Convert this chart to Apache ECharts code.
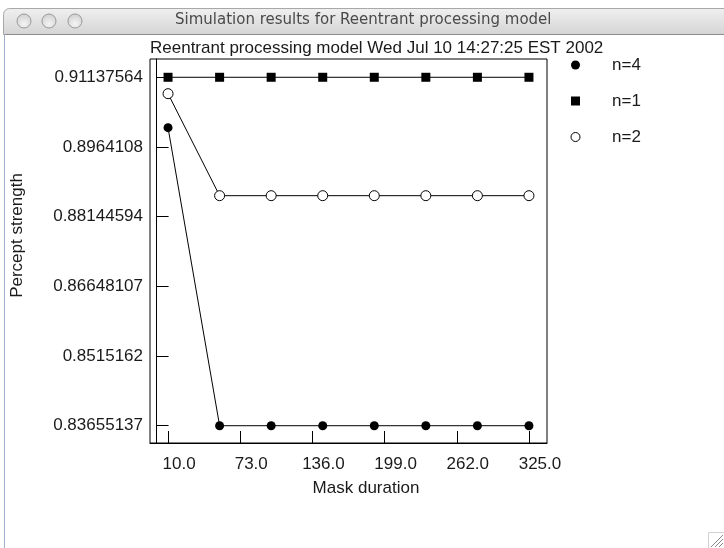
<!DOCTYPE html>
<html>
<head>
<meta charset="utf-8">
<script src="https://cdn.jsdelivr.net/npm/echarts@6/dist/echarts.min.js"></script>
<style>
html,body{margin:0;padding:0;background:#fff;}
#main{width:724px;height:548px;}
</style>
</head>
<body>
<div id="main"></div>
<script>
const windowTitle = 'Simulation results for Reentrant processing model';
const chartTitle = 'Reentrant processing model Wed Jul 10 14:27:25 EST 2002';
const xName = 'Mask duration';
const yName = 'Percept strength';
const seriesNames = ['n=4', 'n=1', 'n=2'];
const xValues = [10, 55, 100, 145, 190, 235, 280, 325];
const n4Values = [0.900555, 0.83655137, 0.83655137, 0.83655137, 0.83655137, 0.83655137, 0.83655137, 0.83655137];
const n1Values = [0.91137564, 0.91137564, 0.91137564, 0.91137564, 0.91137564, 0.91137564, 0.91137564, 0.91137564];
const n2Values = [0.907854, 0.88595, 0.88595, 0.88595, 0.88595, 0.88595, 0.88595, 0.88595];
const xTicks = [10, 73, 136, 199, 262, 325];
const xTickLabels = ['10.0', '73.0', '136.0', '199.0', '262.0', '325.0'];
const yTicks = [0.83655137, 0.8515162, 0.86648107, 0.88144594, 0.8964108, 0.91137564];
const yTickLabels = ['0.83655137', '0.8515162', '0.86648107', '0.88144594', '0.8964108', '0.91137564'];

function pairs(xs, ys) { return xs.map((x, i) => [x, ys[i]]); }
function labelFor(ticks, labels) {
  return function (v) {
    let best = 0, d = Infinity;
    ticks.forEach((t, i) => { const dd = Math.abs(t - v); if (dd < d) { d = dd; best = i; } });
    return labels[best];
  };
}

const FONT = 'Liberation Sans';
const TXT = '#1a1a1a';
const chart = echarts.init(document.getElementById('main'), null, {renderer: 'canvas'});

const lineStyle = {color: '#000', width: 1};

chart.setOption({
  animation: false,
  backgroundColor: '#fff',
  textStyle: {fontFamily: FONT},
  title: {
    text: chartTitle,
    left: 150, top: 40,
    padding: 0,
    textStyle: {fontFamily: FONT, fontSize: 17, fontWeight: 'normal', color: TXT}
  },
  grid: {left: 150, right: 177, top: 59, bottom: 105, show: true, borderColor: '#000', borderWidth: 1, backgroundColor: 'transparent'},
  legend: {
    orient: 'vertical',
    left: 570.5, top: 56.5,
    itemWidth: 9, itemHeight: 9, itemGap: 19,
    padding: 0,
    textStyle: {fontFamily: FONT, fontSize: 17, color: TXT, padding: [0, 0, 0, 27]},
    data: [
      {name: seriesNames[0], icon: 'circle', itemStyle: {color: '#000', borderWidth: 0}},
      {name: seriesNames[1], icon: 'rect', itemStyle: {color: '#000', borderWidth: 0}},
      {name: seriesNames[2], icon: 'circle', itemStyle: {color: '#fff', borderColor: '#000', borderWidth: 1}}
    ]
  },
  xAxis: {
    type: 'value',
    min: -5.75, max: 340.75,
    name: xName, nameLocation: 'middle', nameGap: 37,
    nameTextStyle: {fontFamily: FONT, fontSize: 17, color: TXT, padding: [0, 0, 0, 35]},
    axisLine: {show: true, lineStyle: {color: '#000', width: 1}},
    axisTick: {show: true, inside: true, length: 12, lineStyle: {color: '#000', width: 1}, customValues: xTicks},
    axisLabel: {show: true, customValues: xTicks, margin: 13, fontFamily: FONT, fontSize: 17, color: TXT,
      padding: [0, 0, 0, 22], formatter: labelFor(xTicks, xTickLabels)},
    splitLine: {show: false}
  },
  yAxis: {
    type: 'value',
    min: 0.83284, max: 0.91530,
    name: yName, nameLocation: 'middle', nameGap: 124, nameRotate: 90,
    nameTextStyle: {fontFamily: FONT, fontSize: 17, color: TXT, padding: [0, 0, 0, 31]},
    axisLine: {show: true, lineStyle: {color: '#000', width: 1}},
    axisTick: {show: true, inside: true, length: 12, lineStyle: {color: '#000', width: 1}, customValues: yTicks},
    axisLabel: {show: true, customValues: yTicks, margin: 7, fontFamily: FONT, fontSize: 17, color: TXT,
      formatter: labelFor(yTicks, yTickLabels)},
    splitLine: {show: false}
  },
  series: [
    {name: seriesNames[0], type: 'line', data: pairs(xValues, n4Values), symbol: 'circle', symbolSize: 9,
      lineStyle: lineStyle, itemStyle: {color: '#000'}},
    {name: seriesNames[1], type: 'line', data: pairs(xValues, n1Values), symbol: 'rect', symbolSize: 9,
      lineStyle: lineStyle, itemStyle: {color: '#000'}},
    {name: seriesNames[2], type: 'line', data: pairs(xValues, n2Values), symbol: 'circle', symbolSize: 10,
      lineStyle: lineStyle, itemStyle: {color: '#fff', borderColor: '#000', borderWidth: 1}}
  ],
  graphic: [
    {type: 'rect', silent: true, z: -1,
      shape: {x: 3.5, y: 8.5, width: 730, height: 26, r: [6, 0, 0, 0]},
      style: {fill: new echarts.graphic.LinearGradient(0, 0, 0, 1, [
        {offset: 0, color: '#f0f0f0'}, {offset: 0.5, color: '#e2e2e2'}, {offset: 1, color: '#d4d4d4'}]),
        stroke: '#a8a8a8', lineWidth: 1}},
    {type: 'line', silent: true, shape: {x1: 4, y1: 34.5, x2: 724, y2: 34.5}, style: {stroke: '#8c8c8c', lineWidth: 1}},
    {type: 'line', silent: true, shape: {x1: 4.5, y1: 34, x2: 4.5, y2: 548}, style: {stroke: '#9fb0cf', lineWidth: 1}},
    {type: 'circle', silent: true, shape: {cx: 24, cy: 21, r: 7}, style: {fill: new echarts.graphic.RadialGradient(0.5, 0.7, 0.7, [
      {offset: 0, color: '#f4f4f4'}, {offset: 1, color: '#cfcfcf'}]), stroke: '#9a9a9a', lineWidth: 1}},
    {type: 'circle', silent: true, shape: {cx: 49, cy: 21, r: 7}, style: {fill: new echarts.graphic.RadialGradient(0.5, 0.7, 0.7, [
      {offset: 0, color: '#f4f4f4'}, {offset: 1, color: '#cfcfcf'}]), stroke: '#9a9a9a', lineWidth: 1}},
    {type: 'circle', silent: true, shape: {cx: 75, cy: 21, r: 7}, style: {fill: new echarts.graphic.RadialGradient(0.5, 0.7, 0.7, [
      {offset: 0, color: '#f4f4f4'}, {offset: 1, color: '#cfcfcf'}]), stroke: '#9a9a9a', lineWidth: 1}},
    {type: 'text', silent: true, left: 175, top: 13,
      style: {text: windowTitle, fill: '#4a4a4a', font: '15px "DejaVu Sans"'}},
    {type: 'rect', silent: true, shape: {x: 708.5, y: 532.5, width: 16, height: 16}, style: {fill: '#fff', stroke: '#d0d0d0', lineWidth: 1}},
    {type: 'line', silent: true, shape: {x1: 711, y1: 547, x2: 723, y2: 535}, style: {stroke: '#8a8a8a', lineWidth: 1}},
    {type: 'line', silent: true, shape: {x1: 715, y1: 547, x2: 723, y2: 539}, style: {stroke: '#8a8a8a', lineWidth: 1}},
    {type: 'line', silent: true, shape: {x1: 719, y1: 547, x2: 723, y2: 543}, style: {stroke: '#8a8a8a', lineWidth: 1}}
  ]
});
</script>
</body>
</html>
